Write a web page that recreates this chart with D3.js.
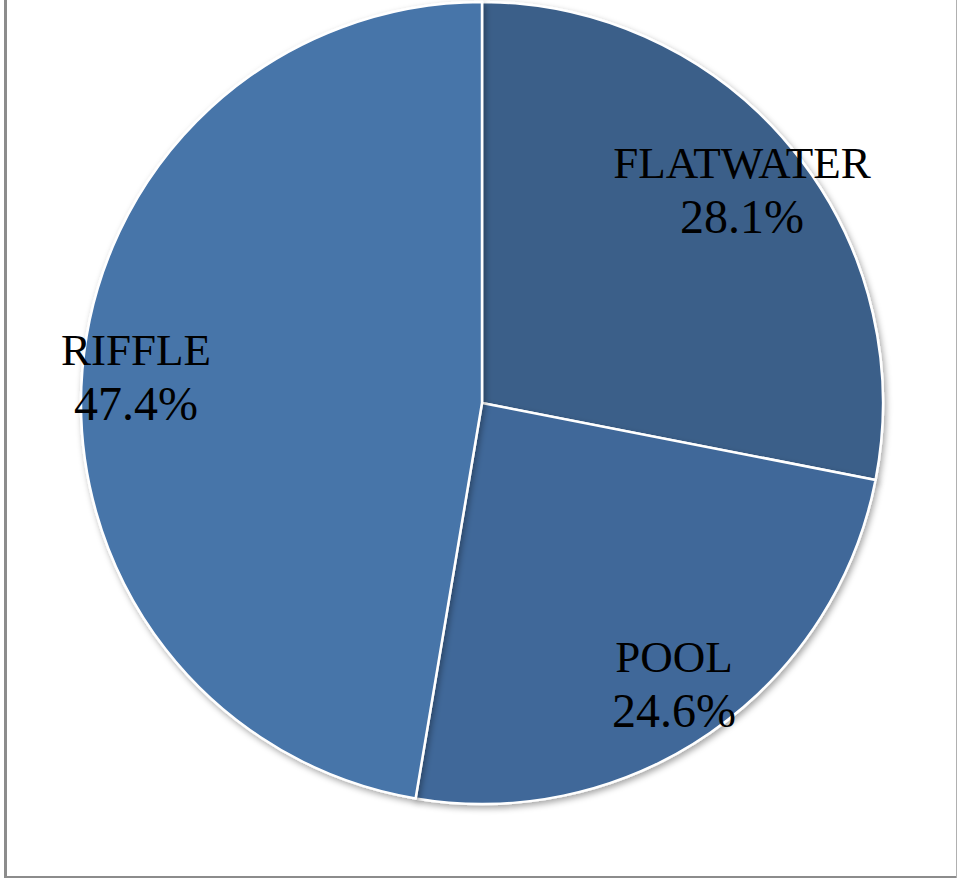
<!DOCTYPE html>
<html><head><meta charset="utf-8">
<script src="https://cdn.jsdelivr.net/npm/d3@7/dist/d3.min.js"></script>
<style>html,body{margin:0;padding:0;background:#fff;overflow:hidden}</style>
</head><body>
<script>
const categories = ["FLATWATER", "POOL", "RIFFLE"];
const values = [28.1, 24.6, 47.4];
const colors = ["#3a5e89", "#3f6899", "#4674a9"];
const labelPos = [[742, 178], [674, 672], [136, 365]];

const W = 957, H = 879;
const svg = d3.select("body").append("svg").attr("width", W).attr("height", H);

const defs = svg.append("defs");
const f = defs.append("filter").attr("id", "sh").attr("x", "-10%").attr("y", "-10%").attr("width", "120%").attr("height", "120%");
f.append("feDropShadow").attr("dx", 2).attr("dy", 3).attr("stdDeviation", 3).attr("flood-color", "#000").attr("flood-opacity", 0.35);

// frame
svg.append("line").attr("x1", 5.5).attr("x2", 5.5).attr("y1", 0).attr("y2", 877).attr("stroke", "#8c8c8c").attr("stroke-width", 3);
svg.append("line").attr("x1", 4).attr("x2", 957).attr("y1", 877).attr("y2", 877).attr("stroke", "#8c8c8c").attr("stroke-width", 2);
svg.append("line").attr("x1", 956.5).attr("x2", 956.5).attr("y1", 0).attr("y2", 878).attr("stroke", "#b0b0b0").attr("stroke-width", 1);

const cx = 482, cy = 403, R = 401;
const pie = d3.pie().sort(null).value(d => d)(values);
const arc = d3.arc().innerRadius(0).outerRadius(R);

const g = svg.append("g").attr("transform", `translate(${cx},${cy})`);
g.selectAll("path").data(pie).enter().append("path")
  .attr("d", arc)
  .attr("fill", (d, i) => colors[i])
  .attr("stroke", "#fff")
  .attr("stroke-width", 2.5)
  .attr("stroke-linejoin", "round")
  .attr("filter", "url(#sh)");

const lab = svg.append("g");
categories.forEach((c, i) => {
  const t = lab.append("text")
    .attr("x", labelPos[i][0]).attr("y", labelPos[i][1])
    .attr("text-anchor", "middle")
    .attr("font-family", "'Liberation Serif', 'DejaVu Serif', serif")
    .attr("font-size", 45)
    .attr("fill", "#000");
  t.append("tspan").attr("x", labelPos[i][0]).text(c);
  t.append("tspan").attr("x", labelPos[i][0]).attr("dy", 55).attr("font-size", 48).text(values[i].toFixed(1) + "%");
});
</script>
</body></html>
